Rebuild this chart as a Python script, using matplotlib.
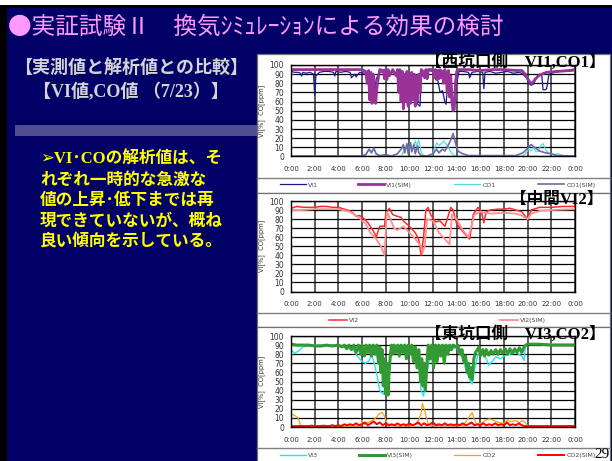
import matplotlib
matplotlib.use("Agg")
import matplotlib.pyplot as plt
from matplotlib.patches import Rectangle

# ---------------- data (hours, values) ----------------
hour_labels = ["0:00", "2:00", "4:00", "6:00", "8:00", "10:00", "12:00",
               "14:00", "16:00", "18:00", "20:00", "22:00", "0:00"]

# West portal: VI1 / CO1
vi1_t = [0, 0.3, 0.6, 0.8, 0.9, 1.0, 1.3, 1.6, 1.9, 2.0, 2.1, 2.4, 2.8, 3.2, 3.6, 3.7, 3.8,
         4.2, 4.6, 5.0, 5.1, 5.4, 5.5, 5.8, 6.2, 6.5, 6.7, 6.8, 6.9, 7.0, 7.2, 7.5, 8.0,
         8.5, 9.0, 9.2, 9.5, 9.8, 10.0, 10.3, 10.5, 10.8, 10.9, 11.0, 11.2, 11.6, 12.0,
         12.3, 12.6, 12.8, 13.0, 13.1, 13.2, 13.4, 13.5, 13.7, 13.8, 14.0, 14.2, 14.5,
         15.0, 15.1, 15.3, 15.8, 16.2, 16.3, 16.4, 16.8, 17.3, 17.8, 18.3, 18.8, 19.3,
         19.6, 19.9, 20.1, 20.3, 20.5, 20.7, 21.0, 21.2, 21.3, 21.5, 21.6, 21.8, 22.3,
         22.8, 23.4, 24]
vi1_v = [93, 92, 92, 91, 88, 92, 91, 92, 90, 67, 88, 92, 93, 93, 92, 88, 93,
         92, 93, 92, 86, 90, 87, 92, 91, 88, 70, 62, 65, 60, 85, 92, 93,
         92, 91, 80, 70, 88, 66, 76, 60, 56, 55, 85, 93, 94, 93,
         90, 70, 72, 60, 57, 72, 80, 86, 62, 56, 80, 93, 93,
         92, 86, 92, 93, 92, 74, 92, 93, 91, 92, 93, 91, 92,
         90, 86, 80, 78, 79, 86, 90, 88, 73, 73, 74, 90, 92,
         93, 93, 94]

vi1s_t = [0, 1, 2, 3, 4, 5, 6, 6.3, 6.45, 6.55, 6.65, 6.75, 6.85, 6.95, 7.05, 7.15, 7.3,
          7.5, 7.8, 7.9, 8.0, 8.1, 8.2, 8.3, 8.6, 8.9, 9.0, 9.1, 9.2, 9.3, 9.4, 9.5,
          9.6, 9.7, 9.8, 9.9, 10.0, 10.1, 10.2, 10.3, 10.4, 10.5, 10.6, 10.7, 10.8,
          10.9, 11.0, 11.1, 11.3, 11.4, 11.5, 11.6, 11.8, 12.0, 12.1, 12.2, 12.3, 12.4,
          12.5, 12.6, 12.7, 12.8, 12.9, 13.0, 13.1, 13.2, 13.3, 13.4, 13.5, 13.6, 13.7,
          13.8, 13.9, 14.0, 14.2, 15, 16, 17, 18, 19, 19.5, 19.8, 20.0, 20.2, 20.4,
          20.6, 20.9, 21.2, 21.6, 22.5, 23.5, 24]
vi1s_v = [95, 95, 95, 95, 95, 95, 95, 93, 80, 94, 62, 92, 58, 90, 75, 58, 80,
          95, 94, 85, 95, 84, 95, 88, 95, 88, 95, 70, 95, 60, 93, 52,
          90, 60, 93, 55, 90, 58, 92, 62, 90, 55, 88, 60, 90,
          70, 95, 94, 86, 95, 85, 95, 95, 95, 86, 95, 84, 94,
          85, 95, 86, 93, 80, 95, 90, 70, 94, 65, 88, 60, 50,
          52, 80, 93, 95, 95, 94, 95, 95, 94, 94, 90, 85, 81, 80,
          84, 88, 90, 92, 93, 94, 95]

co1_t = [0, 6.3, 6.4, 6.6, 6.8, 7.0, 7.2, 7.4, 9.3, 9.5, 9.7, 9.9, 10.1, 10.3, 10.5,
         10.6, 10.8, 11.0, 11.2, 11.5, 11.9, 12.1, 12.3, 12.5, 12.7, 12.9, 13.1, 13.3,
         13.5, 13.7, 14.0, 19.5, 19.8, 20.1, 20.3, 20.5, 20.7, 20.9, 21.1, 21.3, 21.5,
         21.8, 22.2, 22.6, 23.0, 23.5, 24]
co1_v = [0, 0, 3, 8, 5, 9, 2, 0, 0, 5, 10, 8, 14, 10, 17,
         12, 18, 5, 1, 0, 0, 8, 15, 12, 14, 17, 14, 10,
         5, 2, 0, 0, 3, 8, 6, 10, 5, 6, 12, 14, 8,
         3, 2, 3, 1, 1, 0]

co1s_t = [0, 6.0, 6.3, 6.6, 6.8, 7.0, 7.2, 7.5, 8.0, 8.5, 9.0, 9.3, 9.5, 9.6, 9.8, 9.9,
          10.1, 10.2, 10.4, 10.5, 10.7, 10.8, 11.0, 11.5, 12.0, 12.3, 12.5, 12.8, 13.0,
          13.2, 13.5, 13.7, 13.9, 14.1, 14.5, 15, 16, 19, 19.6, 20.0, 20.3, 20.6, 21.0,
          21.5, 22.0, 22.5, 24]
co1s_v = [0.5, 0.5, 2, 8, 4, 9, 3, 1, 2, 0.5, 3, 8, 13, 4, 14, 3,
          15, 5, 13, 3, 12, 4, 1, 0.5, 3, 8, 4, 8, 6,
          10, 18, 25, 15, 6, 3, 1, 1, 1, 4, 9, 13, 10, 6,
          4, 3, 1, 0.5]

# Middle: VI2
vi2_t = [0, 0.5, 1, 1.5, 2, 2.5, 3, 3.5, 4, 4.5, 5.0, 5.3, 5.5, 5.8, 6.2, 6.5, 6.8,
         7.0, 7.2, 7.5, 7.9, 8.0, 8.3, 8.6, 9.0, 9.3, 9.5, 10.0, 10.5, 10.8, 11.0,
         11.2, 11.4, 11.6, 11.8, 12.2, 12.6, 13.0, 13.2, 13.5, 13.7, 14.0, 14.4, 14.8,
         15.1, 15.4, 15.8, 16.1, 16.3, 16.5, 16.8, 17.5, 18, 18.5, 19, 19.5, 20.0,
         20.3, 21, 22, 23, 24]
vi2_v = [92, 94, 93, 93, 93, 94, 94, 93, 93, 91, 89, 86, 83, 84, 80, 76, 70,
         66, 60, 72, 72, 85, 92, 85, 83, 82, 78, 72, 65, 57, 40,
         60, 90, 93, 85, 77, 78, 72, 80, 93, 90, 75, 68, 62,
         58, 85, 93, 88, 76, 88, 90, 91, 91, 92, 90, 88, 80,
         90, 93, 93, 94, 94]

vi2s_t = [0, 1, 2, 3, 4, 5, 5.7, 6.3, 6.7, 7.2, 7.6, 7.9, 8.1, 8.4, 8.7, 9.0, 9.5,
          10.0, 10.5, 11.0, 11.1, 11.3, 11.5, 12.0, 12.5, 13.0, 13.4, 13.6, 14.0,
          14.5, 15.0, 15.2, 15.5, 16, 17, 18, 19, 19.5, 20.0, 20.3, 21, 22, 24]
vi2s_v = [90, 90, 91, 91, 91, 88, 82, 75, 65, 58, 50, 40, 88, 80, 70, 68, 72,
          65, 58, 50, 42, 50, 80, 78, 65, 58, 52, 85, 80,
          68, 60, 70, 85, 88, 86, 87, 86, 84, 80, 86, 89, 90, 91]

# East portal: VI3 / CO2
vi3_t = [0, 0.3, 0.7, 1.0, 1.5, 2, 3, 4, 4.3, 5.0, 5.3, 5.6, 6.0, 6.3, 6.6, 6.8, 7.0,
         7.3, 7.5, 7.8, 8.0, 8.3, 8.6, 9.0, 9.5, 10.0, 10.3, 10.5, 10.8, 11.0, 11.2,
         11.4, 11.6, 12.0, 12.5, 13.0, 13.5, 14.0, 14.5, 14.8, 15.1, 15.3, 15.5, 15.8,
         16.2, 16.5, 16.7, 17.0, 17.3, 17.7, 18.0, 18.5, 19.0, 19.5, 19.7, 19.8, 20,
         22, 24]
vi3_v = [85, 81, 84, 88, 89, 90, 90, 90, 89, 86, 84, 78, 72, 70, 73, 80, 72,
         55, 40, 36, 45, 70, 88, 88, 85, 90, 82, 75, 65, 40, 34,
         50, 68, 88, 85, 88, 85, 88, 75, 62, 52, 47, 62, 80,
         82, 75, 68, 72, 77, 75, 78, 80, 82, 78, 73, 90, 91,
         91, 91]

vi3s_t = [0, 0.5, 1, 1.5, 2, 2.5, 3, 3.5, 4, 4.3, 4.5, 4.7, 4.9, 5.1, 5.3, 5.5, 5.7,
          5.9, 6.0, 6.2, 6.35, 6.5, 6.65, 6.8, 6.95, 7.1, 7.25, 7.4, 7.5, 7.6, 7.7,
          7.8, 7.9, 8.0, 8.1, 8.2, 8.3, 8.4, 8.5, 8.6, 8.7, 8.85, 9.0, 9.15, 9.3, 9.45,
          9.6, 9.75, 9.9, 10.05, 10.2, 10.35, 10.5, 10.65, 10.8, 10.95, 11.05, 11.15,
          11.25, 11.35, 11.45, 11.6, 11.75, 11.9, 12.05, 12.2, 12.35, 12.5, 12.65,
          12.8, 12.95, 13.1, 13.25, 13.4, 13.55, 13.7, 13.9, 14.1, 14.3, 14.45, 14.6,
          14.75, 14.9, 15.0, 15.1, 15.2, 15.3, 15.45, 15.6, 15.75, 15.9, 16.0, 16.2,
          16.35, 16.5, 16.7, 16.9, 17.1, 17.3, 17.5, 17.7, 17.9, 18.1, 18.3, 18.5,
          18.7, 18.9, 19.1, 19.3, 19.5, 19.7, 19.85, 20, 21, 22, 23, 24]
vi3s_v = [91, 90, 90, 90, 89, 89, 90, 89, 90, 88, 90, 86, 90, 85, 90, 82, 90,
          80, 90, 78, 90, 82, 90, 78, 90, 80, 90, 70, 88, 60, 85,
          45, 75, 36, 70, 35, 62, 80, 90, 80, 90, 82, 90, 78, 90, 82,
          90, 75, 90, 80, 90, 72, 88, 65, 85, 50, 75, 45,
          70, 40, 62, 90, 75, 90, 65, 90, 72, 90, 78,
          90, 70, 90, 80, 90, 85, 90, 88, 90, 80, 85, 72,
          78, 60, 70, 55, 65, 52, 75, 82, 85, 88, 78, 85,
          78, 85, 79, 84, 80, 85, 80, 85, 81, 86, 80, 86,
          81, 86, 82, 87, 82, 88, 90, 91, 91, 90, 90, 90]

co2_t = [0, 0.2, 0.4, 0.6, 0.8, 1.0, 2, 3, 4, 5, 5.5, 5.9, 6.0, 6.2, 6.5, 7.0, 7.3,
         7.5, 7.7, 7.9, 8.1, 8.3, 9, 10, 10.5, 10.8, 11.0, 11.1, 11.3, 11.5, 11.6,
         12, 13, 14, 14.5, 14.8, 15.1, 15.3, 15.5, 15.7, 16.2, 16.5, 16.8, 17.2, 17.5,
         18.0, 18.3, 18.6, 19.0, 19.3, 19.6, 19.9, 20.1, 20.5, 22, 24]
co2_v = [15, 13, 12, 10, 2, 1, 1, 1, 1, 1, 1, 1, 7, 3, 5, 8, 12,
         15, 16, 12, 5, 2, 1, 1, 3, 8, 15, 26, 18, 8, 3,
         1, 2, 1, 2, 6, 12, 16, 8, 3, 5, 8, 9, 7, 5,
         4, 8, 6, 7, 5, 7, 3, 1, 0, 0, 0]

co2s_step = 0.25
co2s_v = [1, 1, 1, 1, 1, 1, 1, 1.5, 1, 1, 1, 1.5, 1, 1, 2, 1,
          2, 1, 3, 2, 3, 2, 4, 2, 3, 5, 2, 4, 6, 3, 5, 2,
          4, 2, 3, 2, 4, 2, 3, 2, 4, 2, 3, 5, 2, 4, 2, 3,
          5, 2, 3, 2, 4, 2, 3, 2, 3, 2, 4, 2, 3, 5, 2, 3,
          2, 4, 2, 3, 2, 4, 2, 3, 2, 5, 2, 3, 2, 4, 2, 1,
          1, 1, 1, 1, 1, 1, 1, 1, 1, 1, 1, 1, 1, 1, 1, 1, 1]
co2s_t = [i * co2s_step for i in range(len(co2s_v))]

# ---------------- figure ----------------
W, H = 612, 461
NAVY = "#000066"
JP = ["Noto Sans CJK JP", "DejaVu Sans"]
MIX = ["Liberation Serif", "Noto Sans CJK JP", "DejaVu Sans"]

fig = plt.figure(figsize=(W / 100, H / 100), dpi=100)
fig.patch.set_facecolor("white")

bg = fig.add_axes([0, 0, 1, 1])
bg.set_xlim(0, W)
bg.set_ylim(H, 0)
bg.axis("off")

bg.add_patch(Rectangle((0, 5), W, H - 5, facecolor="black", lw=0))
bg.add_patch(Rectangle((7, 8), W - 7, H - 8, facecolor=NAVY, lw=0))
bg.add_patch(Rectangle((15, 125), 242, 11, facecolor="#4e4e8e", lw=0))

# white chart panels with a rule above each legend row
panels = [(54, 193, 178), (193, 327, 313), (327, 462, 448)]
for top, bot, rule in panels:
    bg.add_patch(Rectangle((257, top), 353, bot - top, facecolor="white",
                           edgecolor="#707070", lw=0.9))
    bg.plot([257, 610], [rule, rule], color="#808080", lw=1.0)

bg.text(8, 27, "●実証試験Ⅱ　換気ｼﾐｭﾚｰｼｮﾝによる効果の検討", color="#ff99ff",
        fontsize=17, family=JP, ha="left", va="center")
bg.text(131, 69, "【実測値と解析値との比較】", color="#d4d4d4", fontsize=13,
        fontweight="bold", family=MIX, ha="center", va="center")
bg.text(131, 92, "【VI値,CO値 （7/23）】", color="#d4d4d4", fontsize=13,
        fontweight="bold", family=MIX, ha="center", va="center")

body = ["➢VI･COの解析値は、そ", "れぞれ一時的な急激な", "値の上昇･低下までは再",
        "現できていないが、概ね", "良い傾向を示している。"]
for i, line in enumerate(body):
    bg.text(40, 160 + i * 20.5, line, color="#ffff00", fontsize=12,
            fontweight="bold", family=MIX, ha="left", va="center")


def chart_axes(top, bottom, left=291, right=575):
    ax = fig.add_axes([left / W, 1 - bottom / H, (right - left) / W, (bottom - top) / H])
    ax.set_xlim(0, 24)
    ax.set_ylim(0, 100)
    ax.set_xticks(range(0, 25, 2))
    ax.set_xticklabels(hour_labels)
    ax.set_yticks(range(0, 101, 10))
    ax.yaxis.grid(True, color="black", lw=0.9)
    ax.xaxis.grid(True, color="#303030", lw=1.1)
    ax.set_axisbelow(True)
    ax.tick_params(axis="y", labelsize=5.5, colors="#333333", length=2,
                   direction="in", pad=5)
    ax.tick_params(axis="x", labelsize=5.0, colors="#333333", length=0, pad=7)
    for s in ax.spines.values():
        s.set_color("black")
        s.set_linewidth(1.0)
    ax.set_ylabel("VI[%]  CO[ppm]", fontsize=4.8, color="#333333", labelpad=3)
    return ax


def key(line, x, y, length_px):
    # one legend entry: swatch starting at pixel x, centred on pixel row y
    fs = 4.5
    fig.legend(handles=[line], labels=[line.get_label()], loc="center left",
               bbox_to_anchor=(x / W, 1 - y / H), frameon=False, fontsize=fs,
               handlelength=length_px / (fs * 100 / 72), handletextpad=0.35,
               borderpad=0, borderaxespad=0, labelcolor="#444444")


# West portal
ax1 = chart_axes(65, 156.5)
l_vi1, = ax1.plot(vi1_t, vi1_v, color="#1a1a8a", lw=0.9, label="VI1")
l_vi1s, = ax1.plot(vi1s_t, vi1s_v, color="#993399", lw=2.0, label="VI1(SIM)")
l_co1, = ax1.plot(co1_t, co1_v, color="#55dddd", lw=0.9, label="CO1")
l_co1s, = ax1.plot(co1s_t, co1s_v, color="#6b6ba8", lw=1.2, label="CO1(SIM)")
for ln, x in zip([l_vi1, l_vi1s, l_co1, l_co1s], [280, 358, 454, 538]):
    key(ln, x, 185, 26)

# Middle
ax2 = chart_axes(201, 291.5)
l_vi2, = ax2.plot(vi2_t, vi2_v, color="#ff2a2a", lw=1.1, label="VI2")
l_vi2s, = ax2.plot(vi2s_t, vi2s_v, color="#ff9090", lw=1.3, label="VI2(SIM)")
for ln, x in zip([l_vi2, l_vi2s], [329, 500]):
    key(ln, x, 320, 18)

# East portal
ax3 = chart_axes(336, 427)
l_vi3, = ax3.plot(vi3_t, vi3_v, color="#22e8f0", lw=1.0, label="VI3")
l_vi3s, = ax3.plot(vi3s_t, vi3s_v, color="#339933", lw=2.2, label="VI3(SIM)")
l_co2, = ax3.plot(co2_t, co2_v, color="#ffa010", lw=0.9, label="CO2")
l_co2s, = ax3.plot(co2s_t, co2s_v, color="#ff0000", lw=1.4, label="CO2(SIM)")
for ln, x in zip([l_vi3, l_vi3s, l_co2, l_co2s], [280, 359, 454, 538]):
    key(ln, x, 455, 26)

# overlay for text that sits above the plots
ov = fig.add_axes([0, 0, 1, 1], zorder=10)
ov.set_xlim(0, W)
ov.set_ylim(H, 0)
ov.axis("off")
ov.patch.set_alpha(0)
ov.text(606, 63, "【西坑口側　VI1,CO1】", fontsize=12, fontweight="bold",
        family=MIX, ha="right", va="center", color="black")
ov.text(603, 200, "【中間VI2】", fontsize=12, fontweight="bold",
        family=MIX, ha="right", va="center", color="black")
ov.text(606, 335, "【東坑口側　VI3,CO2】", fontsize=12, fontweight="bold",
        family=MIX, ha="right", va="center", color="black")
ov.text(610, 454, "29", fontsize=11, family=["Liberation Serif"],
        ha="right", va="center", color="black")

fig.savefig("out.png", dpi=100, facecolor=fig.get_facecolor())
